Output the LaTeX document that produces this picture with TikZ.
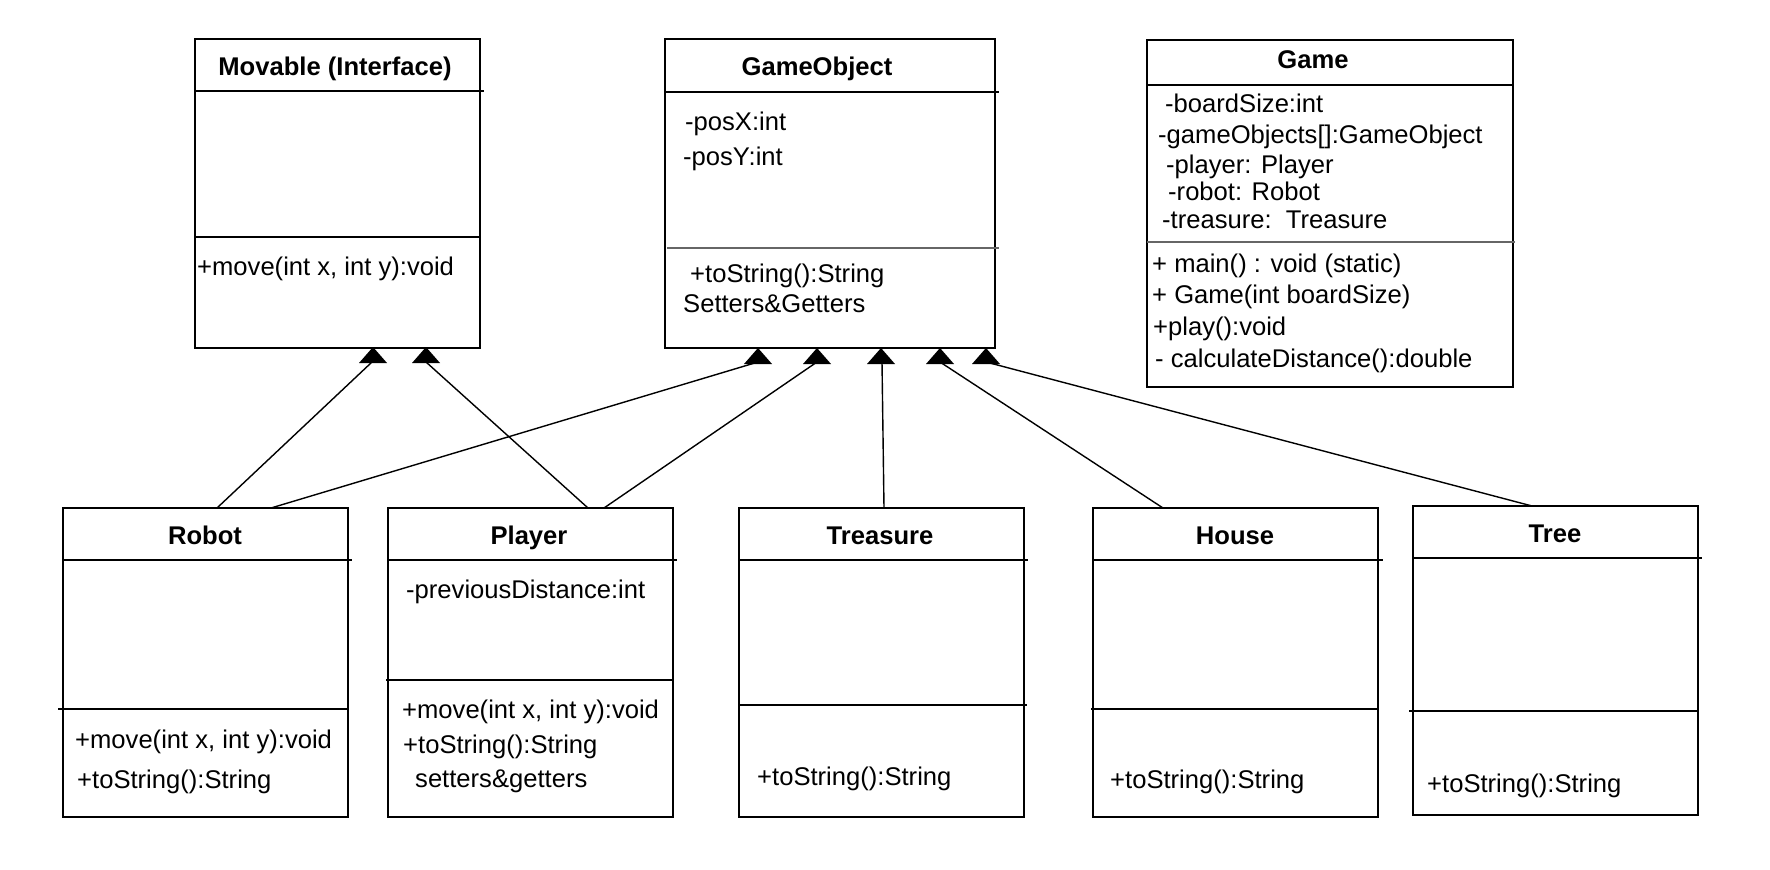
\documentclass[tikz,border=0pt]{standalone}
\usepackage{fontspec}
\setmainfont{Liberation Sans}
\begin{document}
\begin{tikzpicture}[x=1pt,y=-1pt,
  box/.style={draw, line width=1.8pt, anchor=north west, inner sep=0pt, outer sep=0pt},
  ttl/.style={font=\fontsize{25.6}{30}\selectfont\bfseries, anchor=base, inner sep=0pt},
  txt/.style={font=\fontsize{25.6}{30}\selectfont, anchor=base west, inner sep=0pt},
  sepline/.style={line width=1.8pt},
  graysep/.style={line width=2pt, draw=black!60},
  conn/.style={line width=1.4pt},
  tri/.pic={\fill (0,0) -- (14,16) -- (-14,16) -- cycle;}]
\fill[white] (0,0) rectangle (1770,870);
\useasboundingbox (0,0) rectangle (1770,870);

% ---------- Movable ----------
\node[box, minimum width=285, minimum height=309] (mov) at (195,39) {};
\draw[sepline] (195,91) -- (484,91);
\draw[sepline] (195,237) -- (480,237);
\node[ttl] (movT) at (335,75) {Movable (Interface)};
\node[txt] (movM1) at (197,275) {+move(int x, int y):void};

% ---------- GameObject ----------
\node[box, minimum width=330, minimum height=309] (go) at (665,39) {};
\draw[sepline] (665,92) -- (999,92);
\draw[graysep] (667,248) -- (999,248);
\node[ttl] (goT) at (817,75) {GameObject};
\node[txt] (goA1) at (685,130) {-posX:int};
\node[txt] (goA2) at (683,165) {-posY:int};
\node[txt] (goM1) at (690,282) {+toString():String};
\node[txt] (goM2) at (683,312) {Setters\&Getters};

% ---------- Game ----------
\node[box, minimum width=366, minimum height=347] (game) at (1147,40) {};
\draw[sepline] (1147,85) -- (1513,85);
\draw[graysep] (1147,242) -- (1515,242);
\node[ttl] (gameT) at (1313,68) {Game};
\node[txt] (gA1) at (1165,112) {-boardSize:int};
\node[txt] (gA2) at (1158,143) {-gameObjects[]:GameObject};
\node[txt] (gA3) at (1166,173) {-player: Player};
\node[txt] (gA4) at (1168,200) {-robot: Robot};
\node[txt] (gA5) at (1162,228) {-treasure:\ \ Treasure};
\node[txt] (gM1) at (1152,272) {+ main() : void (static)};
\node[txt] (gM2) at (1152,303) {+ Game(int boardSize)};
\node[txt] (gM3) at (1153,335) {+play():void};
\node[txt] (gM4) at (1155,367) {- calculateDistance():double};

% ---------- Robot ----------
\node[box, minimum width=285, minimum height=309] (robot) at (63,508) {};
\draw[sepline] (63,560) -- (352,560);
\draw[sepline] (58,709) -- (348,709);
\node[ttl] (robotT) at (205,544) {Robot};
\node[txt] (rM1) at (75,748) {+move(int x, int y):void};
\node[txt] (rM2) at (77,788) {+toString():String};

% ---------- Player ----------
\node[box, minimum width=285, minimum height=309] (player) at (388,508) {};
\draw[sepline] (388,560) -- (677,560);
\draw[sepline] (386,680) -- (673,680);
\node[ttl] (playerT) at (529,544) {Player};
\node[txt] (pA1) at (406,598) {-previousDistance:int};
\node[txt] (pM1) at (402,718) {+move(int x, int y):void};
\node[txt] (pM2) at (403,753) {+toString():String};
\node[txt] (pM3) at (415,787) {setters\&getters};

% ---------- Treasure ----------
\node[box, minimum width=285, minimum height=309] (treasure) at (739,508) {};
\draw[sepline] (739,560) -- (1028,560);
\draw[sepline] (739,705) -- (1027,705);
\node[ttl] (treasureT) at (880,544) {Treasure};
\node[txt] (tM1) at (757,785) {+toString():String};

% ---------- House ----------
\node[box, minimum width=285, minimum height=309] (house) at (1093,508) {};
\draw[sepline] (1093,560) -- (1383,560);
\draw[sepline] (1091,709) -- (1378,709);
\node[ttl] (houseT) at (1235,544) {House};
\node[txt] (hM1) at (1110,788) {+toString():String};

% ---------- Tree ----------
\node[box, minimum width=285, minimum height=309] (tree) at (1413,506) {};
\draw[sepline] (1413,558) -- (1702,558);
\draw[sepline] (1409,711) -- (1698,711);
\node[ttl] (treeT) at (1555,542) {Tree};
\node[txt] (trM1) at (1427,792) {+toString():String};

% ---------- connector end points ----------
\coordinate (rA) at (217,508);
\coordinate (rB) at (271,508);
\coordinate (pA) at (588,508);
\coordinate (pB) at (604,508);
\coordinate (tA) at (884,508);
\coordinate (hA) at (1163,508);
\coordinate (trA) at (1532,506);
\coordinate (mv1) at (372,362);
\coordinate (mv2) at (426,362);
\coordinate (go1) at (758,362);
\coordinate (go2) at (817,362);
\coordinate (go3) at (882,362);
\coordinate (go4) at (940,362);
\coordinate (go5) at (986,362);

\draw[conn] (rA) -- (mv1);
\draw[conn] (pA) -- (mv2);
\draw[conn] (rB) -- (go1);
\draw[conn] (pB) -- (go2);
\draw[conn] (tA) -- (go3);
\draw[conn] (hA) -- (go4);
\draw[conn] (trA) -- (go5);

\pic at (373,347) {tri};
\pic at (426,347) {tri};
\pic at (758,348) {tri};
\pic at (817,348) {tri};
\pic at (881,348) {tri};
\pic at (940,348) {tri};
\pic at (986,348) {tri};
\end{tikzpicture}
\end{document}
